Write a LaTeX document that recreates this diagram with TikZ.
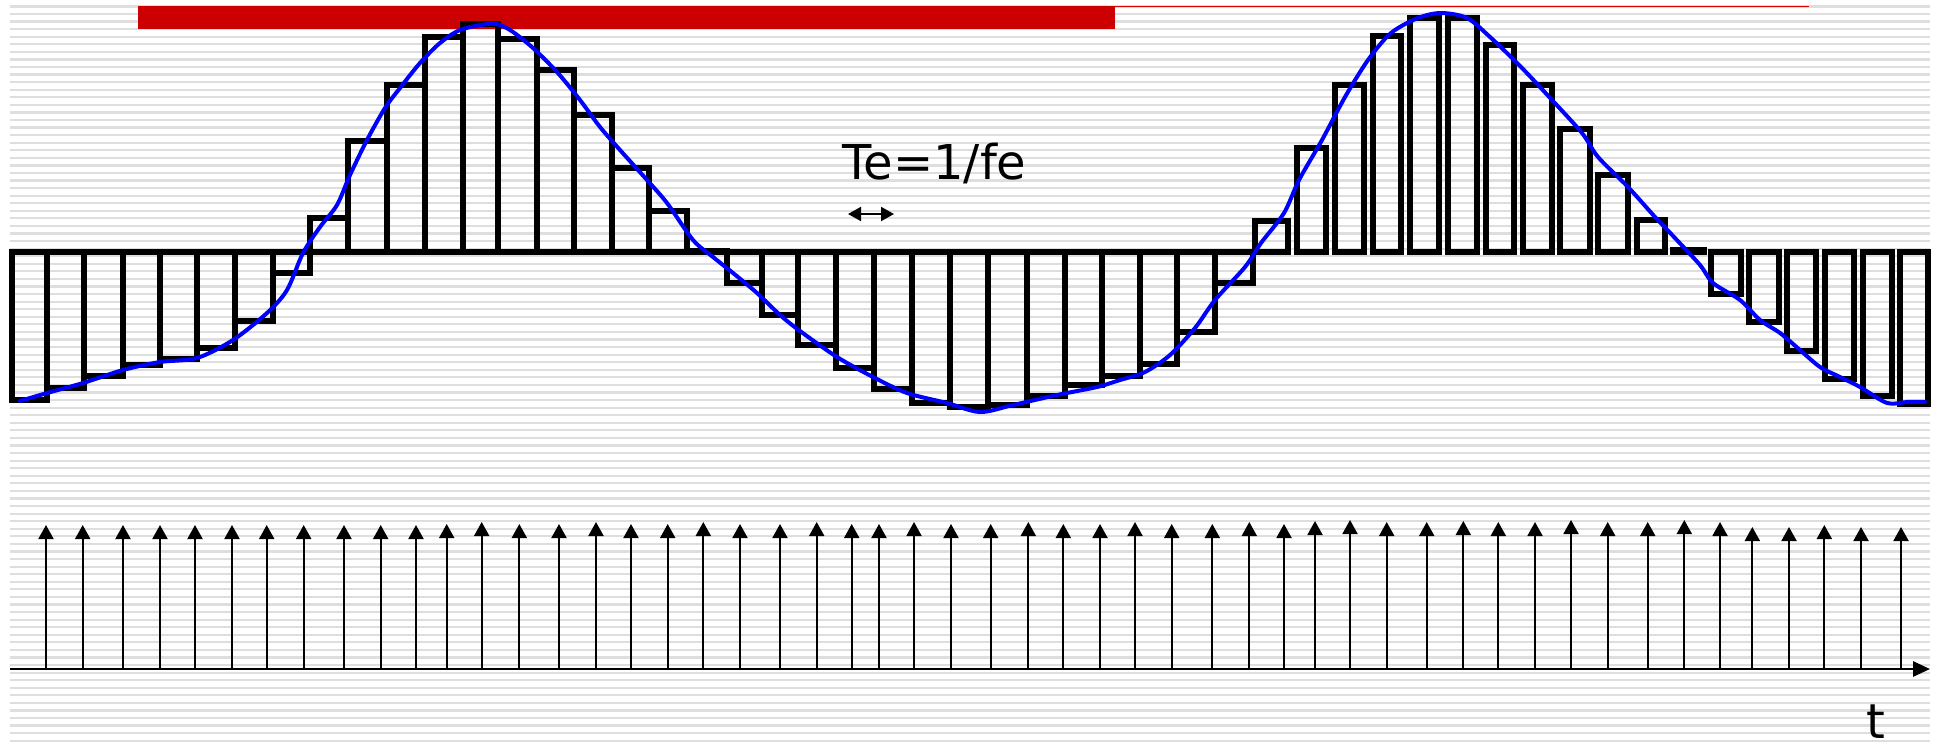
\documentclass[tikz,border=0pt]{standalone}
\usepackage{fontspec}
\setmainfont{DejaVu Sans}
\usetikzlibrary{arrows.meta}
\begin{document}
\begin{tikzpicture}[x=0.5pt,y=-0.5pt,
  stripe/.style={draw=black!13,line width=1.1pt},
  barbox/.style={draw=black,line width=2.6pt,line join=miter},
  signal/.style={draw=blue,line width=2pt,line join=round,line cap=round},
  impulse/.style={draw=black,line width=1pt,-{Triangle[length=7pt,width=7.5pt]}},
  axisline/.style={draw=black,line width=1.4pt,-{Triangle[length=8.5pt,width=7.5pt]}},
  period/.style={draw=black,line width=1pt,{Triangle[length=6.5pt,width=7pt]}-{Triangle[length=6.5pt,width=7pt]}},
  lbl/.style={font=\fontsize{24}{28}\selectfont,inner sep=0pt}
]
\useasboundingbox (0,0) rectangle (1942,750);
\fill[white] (0,0) rectangle (1942,750);
% background stripes
\foreach \k in {-1,...,96} \draw[stripe] (10,{14+7.57*\k}) -- (1930,{14+7.57*\k});
% red bar and line
\fill[fill={rgb,255:red,204;green,0;blue,0}] (138,6) rectangle (1115,29);
\draw[draw={rgb,255:red,225;green,0;blue,0},line width=0.9pt] (1115,6.5) -- (1809,6.5);
% sample-and-hold bars (left part, shared edges)
\foreach \a/\b/\h in {12/47/400,47/84/388,84/123/376,123/160/365,160/197/359,197/235/348,235/273/321,273/310/273,
  310/348/218,348/387/141,387/425/85,425/463/37,463/498/24,498/537/39,537/574/70,574/612/115,612/649/168,649/687/211,
  687/727/251,727/762/283,762/798/315,798/836/345,836/874/368,874/912/389,912/950/403,950/988/407,988/1027/405,
  1027/1065/396,1065/1102/385,1102/1140/376,1140/1177/364,1177/1215/332,1215/1253/283}
  \draw[barbox] (\a,252) rectangle (\b,\h);
% right part, separate boxes
\foreach \a/\b/\h in {1255/1288/221,1297/1326/148,1335/1364/85,1373/1401/36,1410/1439/18,1448/1477/18,1486/1514/45,
  1523/1552/85,1560/1590/129,1598/1628/175,1637/1665/220,1673/1704/250,1711/1741/294,1749/1779/322,1787/1816/351,
  1825/1854/379,1863/1892/396,1900/1928/404}
  \draw[barbox] (\a,252) rectangle (\b,\h);
% analog signal
\draw[signal] plot[smooth,tension=0.5] coordinates {(20,401) (47,393) (83,383) (123,370) (160,362) (197,358) (233,340)
 (267,313) (287,290) (303,253) (320,227) (337,205) (350,175) (367,140) (385,108) (400,88) (420,63) (440,43) (460,30)
 (487,24) (500,25) (513,32) (533,48) (557,72) (580,100) (600,127) (620,150) (647,180) (667,203) (693,240) (713,257)
 (733,273) (757,293) (780,315) (800,331) (837,357) (873,377) (907,393) (947,403) (980,412) (1013,405) (1057,395)
 (1097,387) (1120,380) (1145,372) (1170,355) (1195,328) (1215,300) (1245,267) (1261,243) (1284,213) (1299,180)
 (1322,140) (1345,97) (1368,60) (1391,33) (1418,18) (1441,13) (1467,18) (1490,37) (1521,67) (1552,100) (1582,133)
 (1598,157) (1628,187) (1655,217) (1674,237) (1700,265) (1713,283) (1740,300) (1760,320) (1780,333) (1800,350)
 (1820,367) (1840,377) (1860,387) (1887,403) (1907,402) (1925,402)};
% impulses
\foreach \x/\y [count=\i] in {46/525,82.7/525,123/525,160/525,195/525,232/525,266.7/525,303.7/525,344/525,380.7/525,
  416/525,446.7/524,481.7/522,519.3/524,559/524,596/522,631/524,667.7/524,703.3/522,740/524,780/524,816.7/522,
  851.7/524,879/524,914/522,951/524,990.7/524,1028.3/522,1063.3/524,1100/524,1135/522,1171.7/524,1212.3/524,
  1249.3/522,1284/524,1315/521,1350/520,1386.7/522,1426.7/522,1463.3/521,1498.3/522,1535/522,1571/520,1607.7/522,
  1647.7/522,1684.3/520,1720/522,1752.3/527,1789/527,1824.3/525,1861/527,1901/527}
{
  \coordinate (ib\i) at (\x,669);
  \coordinate (it\i) at (\x,\y);
  \draw[impulse] (ib\i) -- (it\i);
}
% time axis
\coordinate (ax0) at (10,669);
\coordinate (ax1) at (1930,669);
\draw[axisline] (ax0) -- (ax1);
% period marker
\coordinate (p0) at (848,214);
\coordinate (p1) at (894,214);
\draw[period] (p0) -- (p1);
% labels
\node[lbl,anchor=base west] (te) at (842,179) {Te=1/fe};
\node[lbl,anchor=base west] (tl) at (1866,738) {t};
\end{tikzpicture}
\end{document}
